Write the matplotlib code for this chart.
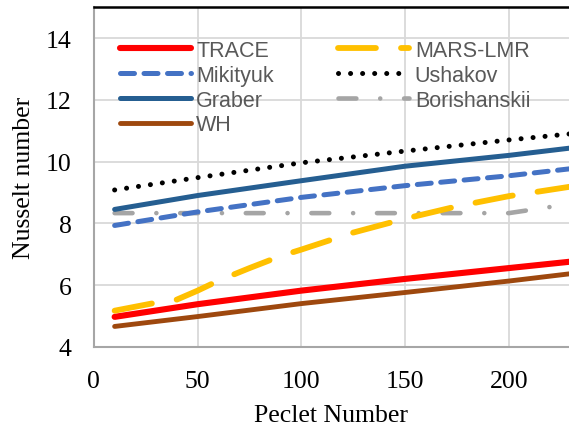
import matplotlib
matplotlib.use('Agg')
import matplotlib.pyplot as plt

# Peclet number sample points
pe = [10, 50, 100, 150, 200, 230]

trace = [4.97, 5.38, 5.82, 6.2, 6.55, 6.76]
wh = [4.66, 4.98, 5.4, 5.76, 6.13, 6.37]
graber = [8.45, 8.9, 9.38, 9.85, 10.2, 10.44]
ushakov = [9.08, 9.48, 9.96, 10.34, 10.7, 10.9]
mikityuk = [7.93, 8.37, 8.84, 9.22, 9.54, 9.77]
mars_pe = [10, 30, 40, 50, 60, 75, 90, 100, 125, 150, 175, 200, 230]
mars = [5.17, 5.43, 5.53, 5.82, 6.14, 6.55, 6.94, 7.15, 7.7, 8.15, 8.55, 8.88, 9.19]
bori_pe = [10, 200, 230]
bori = [8.33, 8.33, 8.63]

serif = 'Liberation Serif'

fig = plt.figure(figsize=(5.69, 4.31), dpi=100)
ax = fig.add_axes([0.165, 0.193, 0.835, 0.788])

# grey dash-dot first, so the others sit on top
ax.plot(bori_pe, bori, color='#A5A5A5', lw=3.3, dash_capstyle='round',
        linestyle=(0, (3.9, 5.2, 0.01, 5.2)), label='Borishanskii', zorder=2)
ax.plot(pe, trace, color='#FF0000', lw=4.4, solid_capstyle='round', label='TRACE', zorder=3)
ax.plot(mars_pe, mars, color='#FFC000', lw=4.2, dash_capstyle='round',
        linestyle=(0, (6.5, 4.3)), label='MARS-LMR', zorder=3)
ax.plot(pe, mikityuk, color='#4472C4', lw=3.6, dash_capstyle='round',
        linestyle=(0, (2.8, 1.9)), label='Mikityuk', zorder=3)
ax.plot(pe, ushakov, color='black', lw=3.6, dash_capstyle='round',
        linestyle=(0, (0.01, 2.4)), label='Ushakov', zorder=3)
ax.plot(pe, graber, color='#255E91', lw=3.6, solid_capstyle='round', label='Graber', zorder=3)
ax.plot(pe, wh, color='#9E480E', lw=3.5, solid_capstyle='round', label='WH', zorder=3)

ax.set_xlim(0, 229)
ax.set_ylim(4, 15)
ax.set_xticks([0, 50, 100, 150, 200])
ax.set_yticks([4, 6, 8, 10, 12, 14])
ax.grid(True, color='#D9D9D9', lw=1.3)
ax.set_axisbelow(True)
ax.tick_params(length=0, labelsize=18.5)
ax.tick_params(axis='y', pad=16)
ax.tick_params(axis='x', pad=17)
for lab in ax.get_xticklabels() + ax.get_yticklabels():
    lab.set_family(serif)

for s in ['left', 'bottom']:
    ax.spines[s].set_color('#A6A6A6')
    ax.spines[s].set_linewidth(1.5)
ax.spines['top'].set_color('black')
ax.spines['top'].set_linewidth(1.8)
ax.spines['right'].set_visible(False)

ax.set_xlabel('Peclet Number', family=serif, fontsize=18.5, labelpad=8)
ax.set_ylabel('Nusselt number', family=serif, fontsize=18.5, labelpad=8)

handles, labels = ax.get_legend_handles_labels()
order = ['TRACE', 'Mikityuk', 'Graber', 'WH', 'MARS-LMR', 'Ushakov', 'Borishanskii']
hmap = dict(zip(labels, handles))
leg = ax.legend([hmap[k] for k in order], order, ncol=2, loc='upper left',
                bbox_to_anchor=(0.0, 0.98), frameon=False,
                prop={'family': ['Liberation Sans Narrow', 'Liberation Sans'], 'size': 15.5},
                handlelength=3.3, handletextpad=0.25, columnspacing=3.0,
                labelspacing=0.18, borderaxespad=0.8)
for t in leg.get_texts():
    t.set_color('#595959')

fig.savefig('out.png', dpi=100)
